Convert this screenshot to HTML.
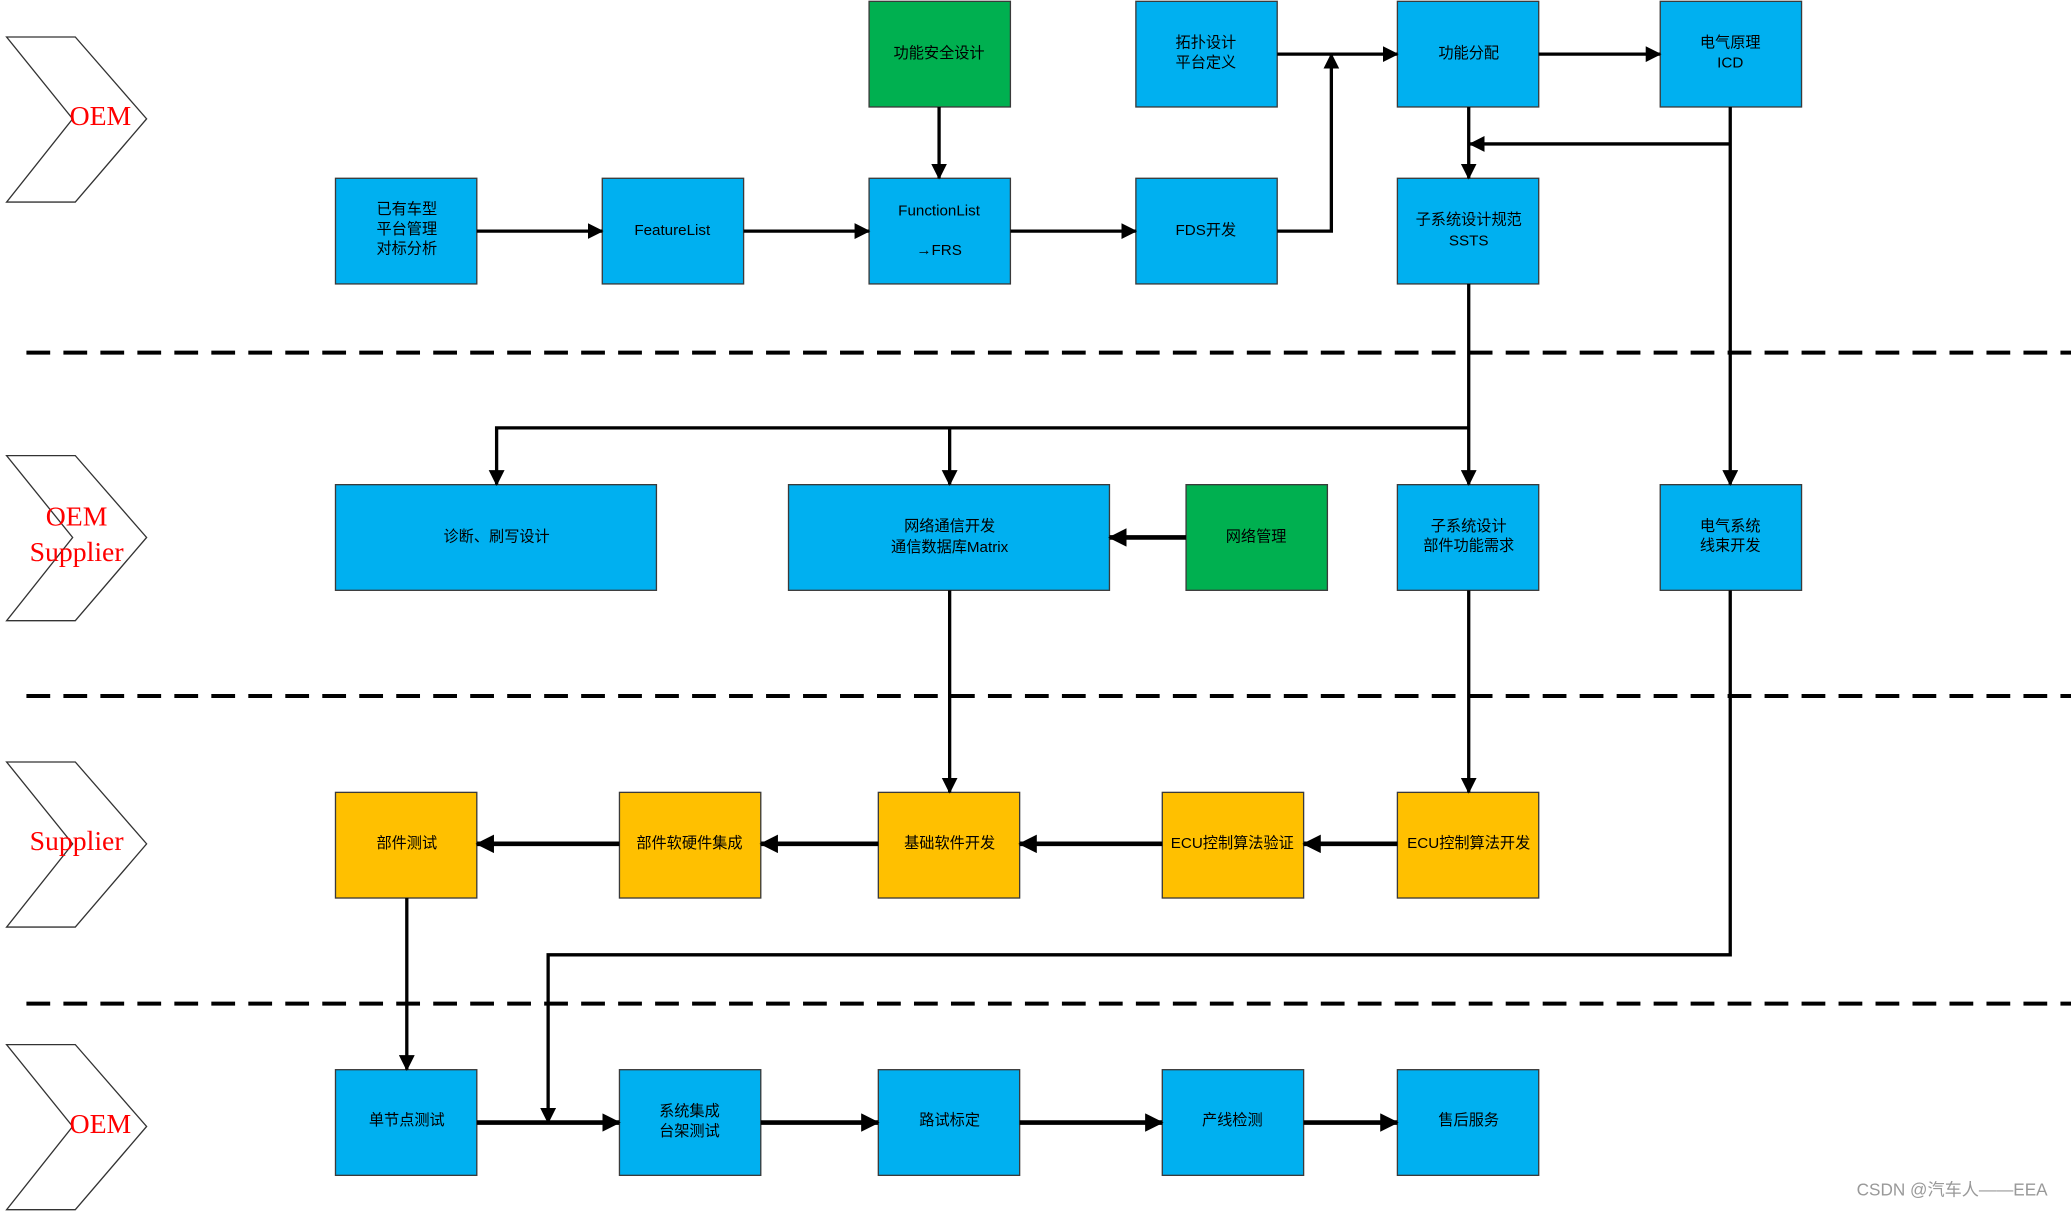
<!DOCTYPE html>
<html><head><meta charset="utf-8"><style>
html,body{margin:0;padding:0;background:#fff;}
svg{display:block;}
text{font-family:"Liberation Sans","Noto Sans CJK SC",sans-serif;font-size:11.5px;fill:#000;text-anchor:middle;dominant-baseline:middle;}
.lab{font-family:"Liberation Serif","Noto Serif CJK SC",serif;font-size:21px;fill:#f00;}
.b{fill:#00B0F0;stroke:#3a3a3a;stroke-width:1;}
.g{fill:#00B050;stroke:#3a3a3a;stroke-width:1;}
.y{fill:#FFC000;stroke:#3a3a3a;stroke-width:1;}
.c{fill:none;stroke:#000;stroke-width:2.5;}
.t{fill:none;stroke:#000;stroke-width:3.5;}
.d{fill:none;stroke:#000;stroke-width:3;stroke-dasharray:18 10;}
.ch{fill:#fff;stroke:#333;stroke-width:1;}
</style></head><body>
<svg width="2071" height="1211" viewBox="0 0 1568 917" preserveAspectRatio="none" xmlns="http://www.w3.org/2000/svg">
<defs>
<marker id="a" markerUnits="userSpaceOnUse" markerWidth="12" markerHeight="12" refX="11" refY="6" orient="auto"><path d="M0,0 L12,6 L0,12 z" fill="#000"/></marker>
<marker id="A" markerUnits="userSpaceOnUse" markerWidth="14" markerHeight="14" refX="13" refY="7" orient="auto"><path d="M0,0 L14,7 L0,14 z" fill="#000"/></marker>
</defs>
<!-- chevrons -->
<polygon class="ch" points="5,28 57,28 111,90 57,153 5,153 55,90"/>
<polygon class="ch" points="5,345 57,345 111,407 57,470 5,470 55,407"/>
<polygon class="ch" points="5,577 57,577 111,639 57,702 5,702 55,639"/>
<polygon class="ch" points="5,791 57,791 111,853 57,916 5,916 55,853"/>
<text class="lab" x="76" y="90">OEM</text>
<text class="lab" x="58" y="393">OEM</text>
<text class="lab" x="58" y="420">Supplier</text>
<text class="lab" x="58" y="639">Supplier</text>
<text class="lab" x="76" y="853">OEM</text>
<!-- dashed lines -->
<line class="d" x1="20" y1="267" x2="1568" y2="267"/>
<line class="d" x1="20" y1="527" x2="1568" y2="527"/>
<line class="d" x1="20" y1="760" x2="1568" y2="760"/>
<!-- boxes -->
<rect class="g" x="658" y="1" width="107" height="80"/><text x="711" y="41">功能安全设计</text>
<rect class="b" x="860" y="1" width="107" height="80"/><text x="913" y="33">拓扑设计</text><text x="913" y="48">平台定义</text>
<rect class="b" x="1058" y="1" width="107" height="80"/><text x="1112" y="41">功能分配</text>
<rect class="b" x="1257" y="1" width="107" height="80"/><text x="1310" y="33">电气原理</text><text x="1310" y="48">ICD</text>

<rect class="b" x="254" y="135" width="107" height="80"/><text x="308" y="159">已有车型</text><text x="308" y="174">平台管理</text><text x="308" y="189">对标分析</text>
<rect class="b" x="456" y="135" width="107" height="80"/><text x="509" y="175">FeatureList</text>
<rect class="b" x="658" y="135" width="107" height="80"/><text x="711" y="160">FunctionList</text><text x="711" y="190">→FRS</text>
<rect class="b" x="860" y="135" width="107" height="80"/><text x="913" y="175">FDS开发</text>
<rect class="b" x="1058" y="135" width="107" height="80"/><text x="1112" y="167">子系统设计规范</text><text x="1112" y="183">SSTS</text>

<rect class="b" x="254" y="367" width="243" height="80"/><text x="376" y="407">诊断、刷写设计</text>
<rect class="b" x="597" y="367" width="243" height="80"/><text x="719" y="399">网络通信开发</text><text x="719" y="415">通信数据库Matrix</text>
<rect class="g" x="898" y="367" width="107" height="80"/><text x="951" y="407">网络管理</text>
<rect class="b" x="1058" y="367" width="107" height="80"/><text x="1112" y="399">子系统设计</text><text x="1112" y="414">部件功能需求</text>
<rect class="b" x="1257" y="367" width="107" height="80"/><text x="1310" y="399">电气系统</text><text x="1310" y="414">线束开发</text>

<rect class="y" x="254" y="600" width="107" height="80"/><text x="308" y="639">部件测试</text>
<rect class="y" x="469" y="600" width="107" height="80"/><text x="522" y="639">部件软硬件集成</text>
<rect class="y" x="665" y="600" width="107" height="80"/><text x="719" y="639">基础软件开发</text>
<rect class="y" x="880" y="600" width="107" height="80"/><text x="933" y="639">ECU控制算法验证</text>
<rect class="y" x="1058" y="600" width="107" height="80"/><text x="1112" y="639">ECU控制算法开发</text>

<rect class="b" x="254" y="810" width="107" height="80"/><text x="308" y="849">单节点测试</text>
<rect class="b" x="469" y="810" width="107" height="80"/><text x="522" y="842">系统集成</text><text x="522" y="857">台架测试</text>
<rect class="b" x="665" y="810" width="107" height="80"/><text x="719" y="849">路试标定</text>
<rect class="b" x="880" y="810" width="107" height="80"/><text x="933" y="849">产线检测</text>
<rect class="b" x="1058" y="810" width="107" height="80"/><text x="1112" y="849">售后服务</text>

<!-- connectors -->
<line class="c" x1="361" y1="175" x2="456" y2="175" marker-end="url(#a)"/>
<line class="c" x1="563" y1="175" x2="658" y2="175" marker-end="url(#a)"/>
<line class="c" x1="765" y1="175" x2="860" y2="175" marker-end="url(#a)"/>
<line class="c" x1="711" y1="81" x2="711" y2="135" marker-end="url(#a)"/>
<polyline class="c" points="967,175 1008,175 1008,41" marker-end="url(#a)"/>
<line class="c" x1="967" y1="41" x2="1058" y2="41" marker-end="url(#a)"/>
<line class="c" x1="1165" y1="41" x2="1257" y2="41" marker-end="url(#a)"/>
<line class="c" x1="1112" y1="81" x2="1112" y2="135" marker-end="url(#a)"/>
<line class="c" x1="1310" y1="81" x2="1310" y2="367" marker-end="url(#a)"/>
<line class="c" x1="1310" y1="109" x2="1113" y2="109" marker-end="url(#a)"/>
<line class="c" x1="1112" y1="215" x2="1112" y2="367" marker-end="url(#a)"/>
<polyline class="c" points="1112,324 376,324 376,367" marker-end="url(#a)"/>
<line class="c" x1="719" y1="324" x2="719" y2="367" marker-end="url(#a)"/>
<line class="t" x1="898" y1="407" x2="840" y2="407" marker-end="url(#A)"/>
<line class="c" x1="719" y1="447" x2="719" y2="600" marker-end="url(#a)"/>
<line class="c" x1="1112" y1="447" x2="1112" y2="600" marker-end="url(#a)"/>
<line class="t" x1="1058" y1="639" x2="987" y2="639" marker-end="url(#A)"/>
<line class="t" x1="880" y1="639" x2="772" y2="639" marker-end="url(#A)"/>
<line class="t" x1="665" y1="639" x2="576" y2="639" marker-end="url(#A)"/>
<line class="t" x1="469" y1="639" x2="361" y2="639" marker-end="url(#A)"/>
<line class="c" x1="308" y1="680" x2="308" y2="810" marker-end="url(#a)"/>
<polyline class="c" points="1310,447 1310,723 415,723 415,850" marker-end="url(#a)"/>
<line class="t" x1="361" y1="850" x2="469" y2="850" marker-end="url(#A)"/>
<line class="t" x1="576" y1="850" x2="665" y2="850" marker-end="url(#A)"/>
<line class="t" x1="772" y1="850" x2="880" y2="850" marker-end="url(#A)"/>
<line class="t" x1="987" y1="850" x2="1058" y2="850" marker-end="url(#A)"/>

<text x="1478" y="902" style="fill:#999;font-size:13px;">CSDN @汽车人——EEA</text>
</svg>
</body></html>
